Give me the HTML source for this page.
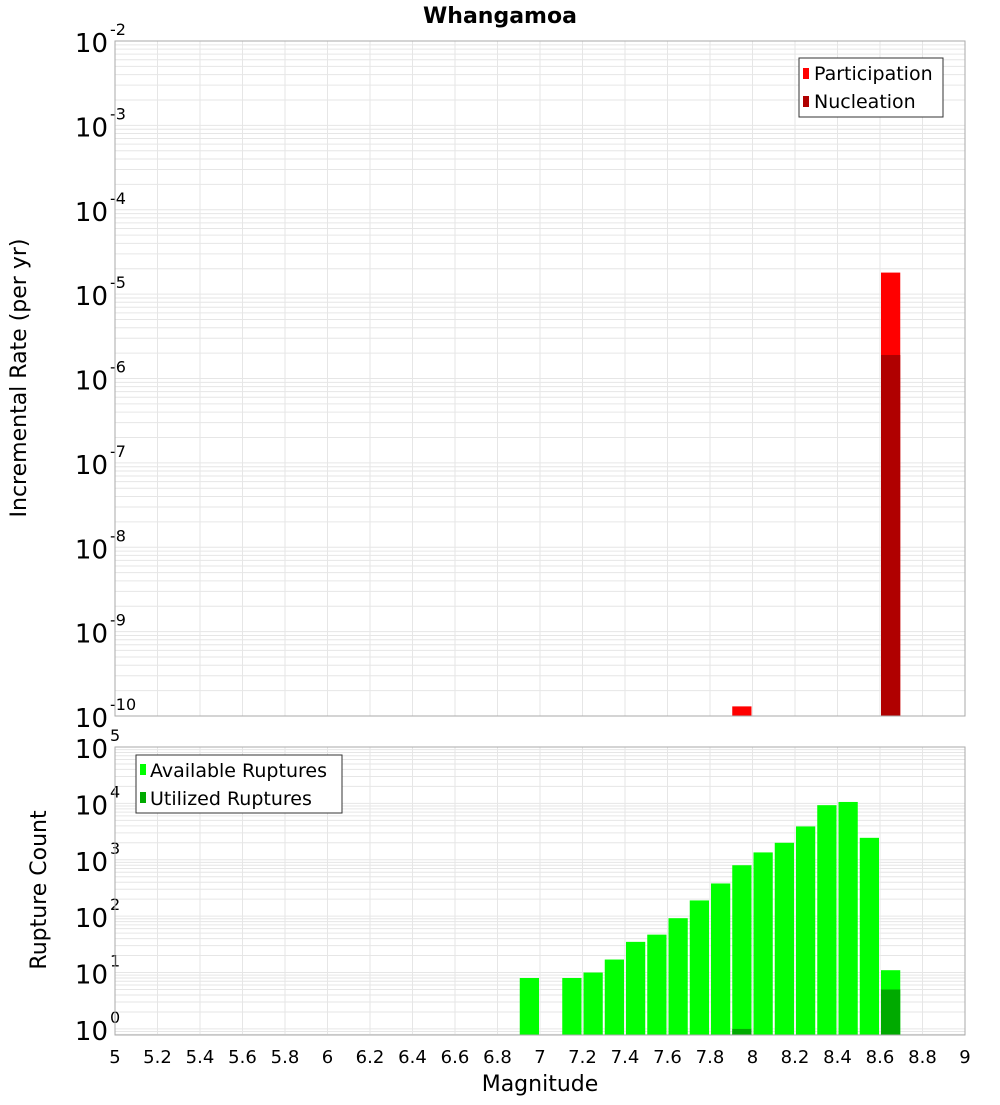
<!DOCTYPE html>
<html><head><meta charset="utf-8"><style>
body{margin:0;background:#fff}
svg text{font-family:"DejaVu Sans","Liberation Sans",sans-serif}
</style></head><body>
<svg id="c" width="1000" height="1100" xmlns="http://www.w3.org/2000/svg">
<text x="500" y="23" text-anchor="middle" font-size="22" font-weight="bold">Whangamoa</text>
<g id="gtop"></g>
<g id="gbot"></g>
<text transform="translate(26,378) rotate(-90)" text-anchor="middle" font-size="22">Incremental Rate (per yr)</text>
<text transform="translate(46,890) rotate(-90)" text-anchor="middle" font-size="22">Rupture Count</text>
<text x="540" y="1091" text-anchor="middle" font-size="22">Magnitude</text>
<g id="legends">
<g>
<rect x="799" y="58" width="144" height="59" fill="#fff" stroke="#333"/>
<rect x="803" y="68" width="6" height="11" fill="#ff0000"/>
<text x="814" y="80" font-size="19">Participation</text>
<rect x="803" y="96" width="6" height="11" fill="#b00000"/>
<text x="814" y="108" font-size="19">Nucleation</text>
</g>
<g>
<rect x="136" y="755" width="206" height="58" fill="#fff" stroke="#333"/>
<rect x="140" y="764" width="6" height="11" fill="#00ff00"/>
<text x="150" y="777" font-size="19">Available Ruptures</text>
<rect x="140" y="792" width="6" height="11" fill="#00aa00"/>
<text x="150" y="805" font-size="19">Utilized Ruptures</text>
</g>
</g>
</svg>
<script>
const mags=[6.9,7.1,7.2,7.3,7.4,7.5,7.6,7.7,7.8,7.9,8.0,8.1,8.2,8.3,8.4,8.5,8.6];
const available=[8,8,10,17,35,47,92,190,380,800,1350,2000,3900,9300,10600,2450,11];
const utilizedMags=[7.9,8.6];
const utilized=[1,5];
const rateMags=[7.9,8.6];
const participation=[1.3e-10,1.8e-5];
const nucleationMags=[8.6];
const nucleation=[1.9e-6];
const xTicks=[5,5.2,5.4,5.6,5.8,6,6.2,6.4,6.6,6.8,7,7.2,7.4,7.6,7.8,8,8.2,8.4,8.6,8.8,9];
const topExps=[-2,-3,-4,-5,-6,-7,-8,-9,-10];
const botExps=[0,1,2,3,4,5];

const NS="http://www.w3.org/2000/svg";
const X0=115,X1=965;
const xs=m=>X0+(m-5)/4*(X1-X0);
function mk(p,t,a){const e=document.createElementNS(NS,t);for(const k in a)e.setAttribute(k,a[k]);p.appendChild(e);return e;}
function plot(g,y0,y1,lmin,lmax,exps,adj){
  const ys=v=>y1-(Math.log10(v)-lmin)/(lmax-lmin)*(y1-y0);
  mk(g,'rect',{x:X0,y:y0,width:X1-X0,height:y1-y0,fill:'#fff'});
  for(let d=Math.floor(lmin);d<Math.ceil(lmax);d++)for(let k=1;k<10;k++){
    const v=k*Math.pow(10,d),y=ys(v);if(y<y0-0.1||y>y1+0.1)continue;
    mk(g,'line',{x1:X0,x2:X1,y1:y,y2:y,stroke:'#e6e6e6','stroke-width':1});}
  xTicks.forEach(t=>{const x=xs(t);mk(g,'line',{x1:x,x2:x,y1:y0,y2:y1,stroke:'#e6e6e6'});});
  exps.forEach(e=>{const y=ys(Math.pow(10,e));
    const t=mk(g,'text',{x:108,y:y+adj,'text-anchor':'end','font-size':26});
    
    
    t.textContent='10';
    const s=mk(g,'text',{x:110,y:y+adj-17,'font-size':16});
    s.textContent=String(e);});
  return ys;
}
const gTop=document.getElementById('gtop'),gBot=document.getElementById('gbot');
const ysT=plot(gTop,41,716,-10,-2,topExps,11);
const ysB=plot(gBot,747,1035,Math.log10(0.78),5,botExps,11);
function bars(g,ms,vals,ys,yb,col,name){ms.forEach((m,i)=>{const x=xs(m)+1,w=xs(m+0.1)-xs(m)-2,y=ys(vals[i]);
  const r=mk(g,'rect',{x:x,y:y,width:w,height:Math.max(0,yb-y),fill:col});
  
  });}
bars(gTop,rateMags,participation,ysT,716,'#ff0000','participation-bar');
bars(gTop,nucleationMags,nucleation,ysT,716,'#b00000','nucleation-bar');
bars(gBot,mags,available,ysB,1035,'#00ff00','available-bar');
bars(gBot,utilizedMags,utilized,ysB,1035,'#00aa00','utilized-bar');
mk(gTop,'rect',{x:X0,y:41,width:X1-X0,height:675,fill:'none',stroke:'#aaa'});
mk(gBot,'rect',{x:X0,y:747,width:X1-X0,height:288,fill:'none',stroke:'#aaa'});
xTicks.forEach(t=>{const l=mk(gBot,'text',{x:xs(t),y:1063,'text-anchor':'middle','font-size':18});
  
  
  l.textContent=String(t);});
const svg=document.getElementById('c');
svg.appendChild(document.getElementById('legends'));
</script>
</body></html>
